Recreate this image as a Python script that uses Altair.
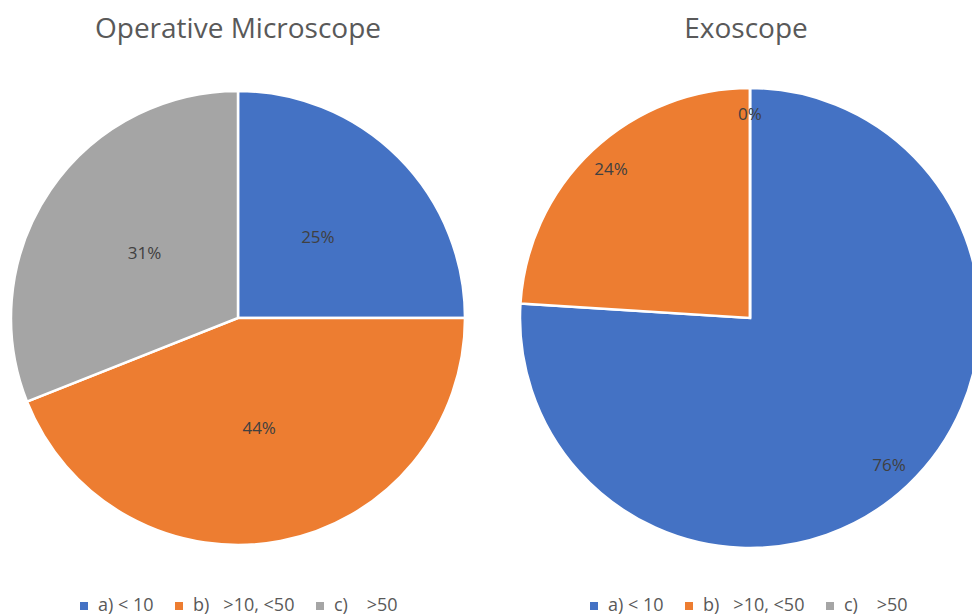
import altair as alt
import pandas as pd

categories = ["a)\u00a0< 10", "b)\u00a0\u00a0\u00a0>10, <50", "c)\u00a0\u00a0\u00a0\u00a0>50"]
order = [1, 2, 3]
microscope = [25, 44, 31]
exoscope = [76, 24, 0]
colors = ["#4472C4", "#ED7D31", "#A5A5A5"]

FONT = "Open Sans"


def make_df(values):
    return pd.DataFrame({
        "category": categories,
        "order": order,
        "value": values,
        "label": [f"{v}%" for v in values],
    })


def pie(values, title, radius, label_radius, legend_x, width, center_x=None):
    df = make_df(values)
    enc = dict(
        theta=alt.Theta("value:Q", stack=True),
        order=alt.Order("order:Q"),
    )
    if center_x is not None:
        enc["x"] = alt.value(center_x)
    base = alt.Chart(df).encode(**enc)
    arcs = base.mark_arc(
        outerRadius=radius, stroke="white", strokeWidth=2.5, clip=True
    ).encode(
        color=alt.Color(
            "category:N",
            scale=alt.Scale(domain=categories, range=colors),
            legend=alt.Legend(
                title=None,
                orient="none",
                direction="horizontal",
                legendX=legend_x,
                legendY=537,
                symbolType="square",
                symbolSize=64,
                symbolStrokeWidth=0,
                labelFont=FONT,
                labelFontSize=18,
                labelColor="#595959",
                labelOffset=5,
                columnPadding=16,
                padding=0,
            ),
        )
    )
    labels = base.mark_text(
        radius=label_radius, font=FONT, fontSize=17, color="#404040"
    ).encode(text="label:N")
    return (arcs + labels).properties(
        width=width,
        height=516,
        title=alt.TitleParams(
            title, fontSize=28, font=FONT, fontWeight="normal",
            color="#595959", anchor="middle", offset=16,
        ),
    )


left = pie(microscope, "Operative Microscope", 227, 113, 75, 476)
right = pie(exoscope, "Exoscope", 230, 203, 65, 452, center_x=230)

chart = alt.hconcat(left, right, spacing=44).resolve_scale(
    color="independent"
).properties(
    padding={"left": 0, "top": 16, "right": 0, "bottom": 0},
    background="white",
).configure_view(stroke=None)

chart.save("out.html", embed_options={"renderer": "svg", "actions": False})
